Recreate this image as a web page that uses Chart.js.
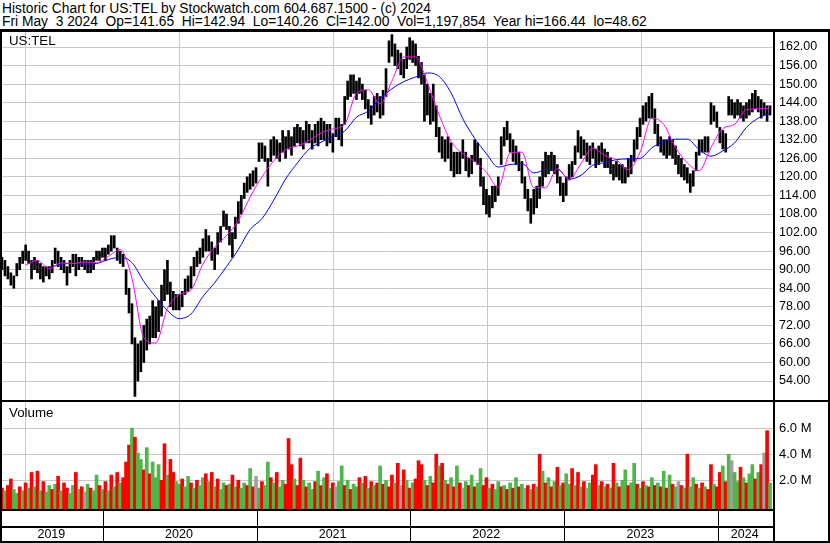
<!DOCTYPE html>
<html>
<head>
<meta charset="utf-8">
<title>Historic Chart for US:TEL</title>
<script src="https://cdn.jsdelivr.net/npm/chart.js@4.4.1/dist/chart.umd.min.js"></script>
<style>
body { margin: 0; width: 830px; height: 543px; background: #fff; position: relative; overflow: hidden; font-family: "Liberation Sans", Arial, sans-serif; }
.txt { position: absolute; font-size: 13.3px; line-height: 14px; white-space: pre; color: #000; z-index: 3; }
.hd { font-size: 13.8px; }
.bk { position: absolute; background: #000; z-index: 2; }
canvas { position: absolute; left: 0; }
</style>
</head>
<body>
<div class="txt hd" style="left:2px;top:2px">Historic Chart for US:TEL by Stockwatch.com 604.687.1500 - (c) 2024</div>
<div class="txt hd" style="left:2px;top:15px">Fri May  3 2024  Op=141.65  Hi=142.94  Lo=140.26  Cl=142.00  Vol=1,197,854  Year hi=166.44  lo=48.62</div>
<div class="txt" style="left:9px;top:34px">US:TEL</div>
<div class="txt" style="left:9px;top:406px">Volume</div>

<canvas id="priceChart" width="830" height="368" style="top:32px"></canvas>
<canvas id="volChart" width="830" height="141" style="top:402px"></canvas>

<div class="bk" style="left:0;top:29px;width:830px;height:3px"></div>
<div class="bk" style="left:0;top:29px;width:2px;height:514px"></div>
<div class="bk" style="left:828px;top:29px;width:2px;height:514px"></div>
<div class="bk" style="left:773px;top:29px;width:2px;height:514px"></div>
<div class="bk" style="left:0;top:400px;width:830px;height:2px"></div>
<div class="bk" style="left:0;top:541px;width:830px;height:2px"></div>

<script>
// --- Données (semaines depuis le 3 mai 2019) ---
const yearLabels = ["2019", "2020", "2021", "2022", "2023", "2024"];
const yearStarts = [34.1, 86.4, 138.1, 190.4, 242.5];   // semaine du 1er janvier
const priceTicks = [54, 60, 66, 72, 78, 84, 90, 96, 102, 108, 114, 120, 126, 132, 138, 144, 150, 156, 162];
const volTicks = [2, 4, 6];

// plus bas / plus haut hebdo
const lows = [
  90,88,87,85,84, 88,90,92,93,92, 87,90,89,87,86, 88,87,89,92,91,
  90,89,85,89,91, 88,90,91,90,89, 89,90,93,93,94, 93,95,96,97,93,
  92,91,82,76,66, 49,54,57,60,64, 66,68,68,70,75, 80,82,78,77,77,
  77,78,82,83,84, 88,91,92,94,96, 96,93,90,95,99, 104,103,98,94,100,
  105,108,113,115,116, 117,118,125,126,125, 117,125,127,126,125, 128,126,129,127,130,
  131,130,129,131,131, 129,131,130,132,132, 130,131,128,133,132, 130,137,145,146,147,
  145,147,145,142,139, 137,140,141,139,140, 146,157,159,156,155, 153,152,155,158,157,
  156,152,150,138,140, 137,138,133,128,126, 125,126,122,120,121, 121,126,122,120,121,
  125,124,117,111,108, 107,110,112,114,124, 130,132,128,125,124, 122,118,113,109,105,
  108,110,113,117,120, 121,122,121,118,114, 112,114,119,120,124, 128,126,127,125,124,
  126,123,124,125,123, 123,121,119,120,119, 118,118,120,121,125, 129,133,137,138,139,
  139,134,130,128,127, 126,127,126,124,121, 120,119,118,115,117, 122,127,128,128,128,
  137,138,136,131,129, 128,140,140,139,140, 139,138,139,140,141, 142,141,139,140,138,140
];
const highs = [
  94,93,91,89,88, 92,94,96,98,96, 93,94,93,92,91, 91,91,93,97,96,
  94,93,91,93,95, 95,94,94,93,93, 93,94,96,96,97, 97,98,101,101,97,
  96,95,90,84,79, 68,66,67,72,74, 75,80,78,80,85, 90,93,86,83,82,
  82,83,87,88,91, 94,96,97,100,103, 101,99,97,102,104, 109,108,104,102,107,
  112,114,118,120,121, 122,123,131,131,130, 126,132,133,132,131, 135,133,135,133,136,
  137,136,135,138,137, 135,137,138,139,138, 137,137,134,139,139, 137,146,151,153,153,
  151,152,150,148,145, 143,146,147,146,148, 155,164,166,163,161, 160,158,162,165,164,
  163,159,157,153,150, 147,150,143,136,133, 132,133,131,128,128, 128,132,128,126,127,
  132,131,126,120,116, 114,117,117,120,133, 136,138,134,132,130, 128,125,120,116,113,
  116,117,120,125,128, 127,128,127,124,120, 118,120,124,125,130, 135,133,132,131,130,
  131,129,130,131,129, 128,126,124,125,124, 124,123,126,127,132, 136,139,143,144,146,
  147,142,137,133,132, 132,133,132,130,127, 126,124,123,121,122, 128,132,132,133,133,
  144,143,141,136,135, 134,146,145,144,145, 144,143,144,145,147, 148,146,145,144,143,143
];

// moyennes mobiles, une valeur toutes les 4 semaines
const maShort = [
  null, null, 91.5, 93, 90.3, 92.2, 92, 92.5, 92.3, 94.3, 96.5, 87.2, 68, 66.3, 77.5, 82,
  83.5, 91.8, 97.3, 101, 105.8, 113.5, 120, 125.2, 128.8, 130, 131.8, 134.2, 135.5, 137, 147, 148.2,
  143.6, 151, 158.8, 158.8, 150.5, 140, 131.5, 127.5, 125, 121.5, 116.6, 127.7, 128, 116.5, 116.5, 122.7,
  119.2, 124.3, 129.3, 127, 125.5, 122.3, 128, 139, 137, 129.5, 124.5, 122, 129.5, 135.6, 137, 141.7,
  142, 142.3
];
const maLong = [
  null, null, null, null, 90.6, 91.8, 92, 91.8, 92, 93.3, 94, 92.3, 86.2, 81.2, 76.8, 74.2,
  75.7, 81.3, 85.8, 91, 96.5, 103, 106.5, 112.5, 119.3, 124.5, 129, 131.2, 133, 134.8, 139.3, 141.3,
  145.3, 148.5, 150.8, 152.3, 153.6, 152.5, 147.2, 138.8, 132.5, 127.5, 123.2, 124, 124.3, 121.3, 122.3, 122.5,
  119.3, 120.5, 123.8, 124.6, 125.6, 125.8, 126, 129.4, 131.4, 132.2, 132.2, 128.8, 126.7, 128.4, 131, 136,
  139, 140.6
];
const maStep = 4;

// volume (millions) et sens de la séance : 1 hausse, -1 baisse, 0 inchangé
const volumes = [
  1.4,1.2,1.6,2.1,1.3,1.0,1.5,1.2,1.8,1.4, 2.6,1.5,2.7,1.2,1.9,1.1,1.6,1.3,1.7,2.3,
  1.2,1.8,1.4,1.0,1.6,2.6,1.3,1.5,1.1,1.7, 1.4,1.2,2.4,1.6,1.3,1.9,1.2,2.4,1.5,2.6,
  1.8,2.2,3.4,4.7,6.0,5.3,4.1,3.6,2.8,4.5, 2.5,3.4,2.2,3.2,2.0,4.8,2.4,3.6,2.6,1.9,
  1.7,2.1,1.5,2.3,1.8,1.4,2.0,1.6,2.2,2.5, 1.9,2.6,1.5,2.1,1.3,1.8,1.6,1.7,2.4,1.5,
  2.0,1.4,1.8,1.6,2.9,1.5,2.3,1.4,1.9,1.6, 3.4,2.2,1.8,2.6,1.5,2.0,1.7,5.2,3.2,2.1,
  1.6,3.7,2.0,1.5,1.8,1.3,1.9,2.7,1.6,2.2, 2.5,1.4,1.8,1.5,1.9,3.1,1.6,2.0,1.3,1.7,
  1.5,2.2,1.8,2.3,1.4,1.9,1.6,1.8,3.1,1.7, 2.0,1.5,2.4,1.8,3.3,1.6,2.8,2.0,1.4,1.8,
  2.1,3.5,3.2,2.0,1.6,2.3,1.8,4.0,3.1,3.3, 2.0,1.7,2.2,1.5,3.1,1.8,1.4,1.9,1.6,2.4,
  1.5,1.8,2.9,1.6,2.2,1.4,1.7,1.3,1.9,1.5, 1.6,1.3,1.8,1.4,2.2,1.5,1.7,1.4,1.6,1.3,
  1.7,1.5,4.0,2.7,1.8,2.2,1.5,1.9,3.0,1.6, 1.8,2.5,1.7,2.9,1.6,2.6,1.5,1.9,1.4,1.8,
  2.4,3.2,1.6,1.9,1.5,1.7,1.4,3.3,1.8,1.5, 2.0,2.8,1.6,1.8,3.3,1.7,1.4,1.9,1.6,1.5,
  2.2,1.6,1.8,1.5,2.7,1.4,2.4,1.7,1.5,1.9, 1.6,1.4,4.0,1.5,2.2,1.7,1.4,1.8,1.5,1.3,
  3.2,1.7,1.5,2.6,3.1,1.9,4.0,3.5,2.6,1.9, 3.0,2.2,1.8,2.5,3.2,2.1,2.6,3.2,4.1,5.8,1.8
];
const volDir = [
  -1,1,-1,-1,1,1,-1,1,-1,1, -1,1,-1,1,-1,1,1,-1,1,-1,
  1,-1,-1,1,1,-1,1,-1,0,1, -1,1,1,-1,1,-1,1,-1,1,-1,
  1,-1,-1,-1,1,-1,1,1,-1,1, -1,1,1,1,-1,-1,1,-1,-1,1,
  1,-1,1,1,-1,1,-1,1,1,-1, 1,-1,1,-1,1,1,-1,1,-1,1,
  -1,1,1,-1,1,-1,0,1,-1,1, 1,-1,1,-1,1,1,-1,-1,-1,1,
  -1,-1,1,-1,1,1,-1,1,-1,1, -1,1,-1,0,1,1,-1,1,-1,1,
  1,-1,1,-1,1,-1,1,-1,1,-1, 1,-1,-1,1,-1,0,-1,1,-1,1,
  -1,-1,-1,1,-1,1,-1,-1,1,-1, 1,-1,1,-1,1,-1,0,1,-1,1,
  -1,1,1,-1,-1,1,-1,1,1,-1, 1,-1,1,-1,1,-1,1,0,-1,1,
  -1,1,-1,1,-1,1,-1,1,-1,1, -1,1,1,-1,1,-1,1,-1,0,1,
  -1,-1,1,-1,1,-1,1,-1,1,-1, 1,1,-1,1,1,-1,1,-1,1,-1,
  1,-1,1,-1,1,-1,1,-1,1,0, -1,1,-1,1,1,-1,1,-1,1,-1,
  -1,1,-1,-1,1,-1,1,0,1,1, -1,1,-1,1,1,-1,1,-1,0,-1,1
];

// --- Styles ---
const FONT = '"Liberation Sans", Arial, sans-serif';
const GRID = '#c8c8c8';
const UP = '#4cb848', DOWN = '#ff0000', FLAT = '#a0a0a0';
const nWeeks = lows.length;

function maPoints(arr) {
    const pts = [];
    arr.forEach((v, k) => { if (v !== null) pts.push({ x: k * maStep, y: v }); });
    return pts;
}

// axe x commun aux deux graphiques
function xAxis() {
    return {
        type: 'linear', min: 0, max: nWeeks, offset: false,
        ticks: { display: false },
        grid: { color: GRID, drawTicks: false },
        border: { display: false },
        afterBuildTicks: s => { s.ticks = yearStarts.map(v => ({ value: v })); }
    };
}

function rightAxis(min, max, ticks, fmt, size) {
    return {
        position: 'right', min: min, max: max,
        afterBuildTicks: s => { s.ticks = ticks.map(v => ({ value: v })); },
        afterFit: s => { s.width = 57; s.paddingTop = 0; s.paddingBottom = 0; },
        ticks: { callback: fmt, padding: 6, color: '#000', font: { family: FONT, size: size } },
        grid: { color: GRID, drawTicks: false },
        border: { display: false }
    };
}

const common = {
    responsive: false, animation: false, events: [],
    plugins: { legend: { display: false }, tooltip: { enabled: false } }
};

// --- Graphique des cours ---
new Chart(document.getElementById('priceChart'), {
    type: 'bar',
    data: {
        datasets: [
            { type: 'line', data: maPoints(maShort), borderColor: '#ff00ff', borderWidth: 1, pointRadius: 0, cubicInterpolationMode: 'monotone', order: 0 },
            { type: 'line', data: maPoints(maLong), borderColor: '#0000ff', borderWidth: 1, pointRadius: 0, cubicInterpolationMode: 'monotone', order: 1 },
            { type: 'bar', data: lows.map((lo, i) => ({ x: i, y: [lo, highs[i]] })), backgroundColor: '#000', barThickness: 2, grouped: false, order: 2 }
        ]
    },
    options: Object.assign({}, common, {
        layout: { padding: { left: 2, right: 0, top: 0, bottom: 0 } },
        scales: {
            x: xAxis(),
            y: rightAxis(47.87, 166.85, priceTicks, v => v.toFixed(2), 12.5)
        }
    })
});

// --- Volume + bandeau des années ---
const yearRows = {
    id: 'yearRows',
    afterDraw(chart) {
        const { ctx, chartArea, scales: { x } } = chart;
        const b = chartArea.bottom;
        ctx.save();
        ctx.fillStyle = '#000';
        ctx.fillRect(0, b, 775, 2);
        ctx.fillRect(0, b + 17, 775, 2);
        yearStarts.forEach(w => ctx.fillRect(Math.round(x.getPixelForValue(w)), b + 2, 1, 30));
        ctx.font = '12.5px ' + FONT;
        ctx.textAlign = 'center';
        const bounds = [x.min].concat(yearStarts, [x.max]);
        yearLabels.forEach((lab, k) => {
            const a = x.getPixelForValue(bounds[k]), c = x.getPixelForValue(bounds[k + 1]);
            ctx.fillText(lab, (a + c) / 2 - 1, b + 29);
        });
        ctx.restore();
    }
};

new Chart(document.getElementById('volChart'), {
    type: 'bar',
    data: {
        datasets: [{
            data: volumes.map((v, i) => ({ x: i, y: v })),
            backgroundColor: volDir.map(d => d > 0 ? UP : (d < 0 ? DOWN : FLAT)),
            barThickness: 3, base: -0.2, grouped: false
        }]
    },
    options: Object.assign({}, common, {
        layout: { padding: { left: 2, right: 0, top: 0, bottom: 34 } },
        scales: {
            x: xAxis(),
            y: rightAxis(-0.2, 8, volTicks, v => v.toFixed(1) + ' M', 13)
        }
    }),
    plugins: [yearRows]
});
</script>
</body>
</html>
